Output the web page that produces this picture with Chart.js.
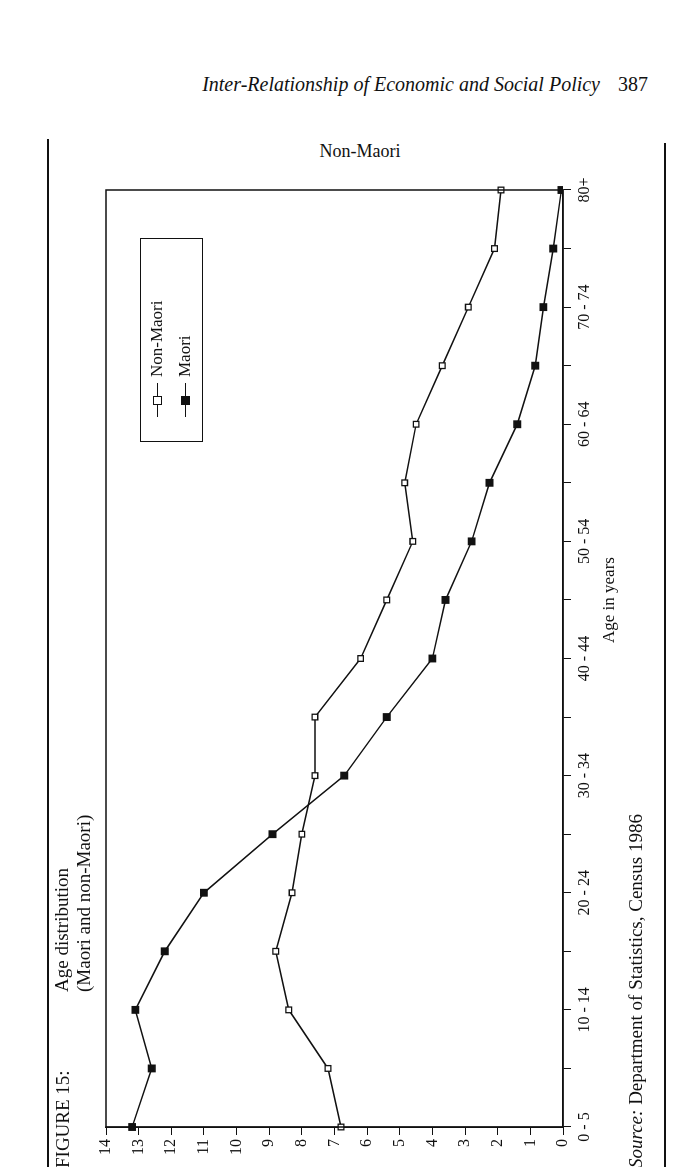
<!DOCTYPE html>
<html><head><meta charset="utf-8">
<script src="https://cdn.jsdelivr.net/npm/chart.js@4/dist/chart.umd.min.js"></script>
<style>
body{margin:0;background:#fff;width:700px;height:1167px;position:relative;overflow:hidden;font-family:"Liberation Serif",serif;color:#111}
#rot{position:absolute;left:30px;top:1170px;width:1140px;height:640px;transform:rotate(-90deg);transform-origin:0 0}
#rot div{position:absolute;white-space:nowrap}
.rule{position:absolute;background:#111;width:1.5px}
</style></head><body>
<div style="position:absolute;right:52px;top:73px;font-size:20px;font-style:italic;white-space:nowrap">Inter-Relationship of Economic and Social Policy<span style="font-style:normal;margin-left:18px">387</span></div>
<div style="position:absolute;left:0;width:720px;text-align:center;top:141px;font-size:18px">Non-Maori</div>
<div class="rule" style="left:47px;top:139px;height:1030px"></div>
<div class="rule" style="left:664px;top:143px;height:1027px"></div>
<div id="rot">
  <canvas id="c" width="1000" height="600" style="position:absolute;left:0;top:0;width:1000px;height:600px"></canvas>
  <div style="left:2px;top:21px;font-size:19px;line-height:24px">FIGURE 15:</div>
  <div style="left:178px;top:21px;font-size:19px;line-height:22px">Age distribution<br>(Maori and non-Maori)</div>
  <div style="left:2px;top:595px;font-size:19px"><i>Source:</i> Department of Statistics, Census 1986</div>
  <div style="left:470px;top:569px;width:200px;text-align:center;font-size:17px">Age in years</div>
  <div style="left:728px;top:110px;width:202px;height:61px;border:1.5px solid #111">
    <div style="left:64px;top:2px;font-size:17px;line-height:28px">Non-Maori<br>Maori</div>
    <div style="left:24px;top:16px;width:34px;height:1.2px;background:#111"></div>
    <div style="left:36px;top:12px;width:7px;height:7px;border:1.2px solid #111;background:#fff"></div>
    <div style="left:24px;top:44px;width:34px;height:1.2px;background:#111"></div>
    <div style="left:36px;top:40px;width:9px;height:9px;background:#111"></div>
  </div>
</div>
<script>
const ageGroups=["0 - 5","5 - 9","10 - 14","15 - 19","20 - 24","25 - 29","30 - 34","35 - 39","40 - 44","45 - 49","50 - 54","55 - 59","60 - 64","65 - 69","70 - 74","75 - 79","80+"];
const nonMaori=[6.8,7.2,8.4,8.8,8.3,8.0,7.6,7.6,6.2,5.4,4.6,4.85,4.5,3.7,2.9,2.1,1.9];
const maori=[13.2,12.6,13.1,12.2,11.0,8.9,6.7,5.4,4.0,3.6,2.8,2.25,1.4,0.85,0.6,0.3,0.05];
const valueTicks=[0,1,2,3,4,5,6,7,8,9,10,11,12,13,14];
const boxPlugin={id:'box',afterDraw(ch){const a=ch.chartArea,x=ch.ctx;x.save();x.strokeStyle='#111';x.lineWidth=1.5;x.strokeRect(a.left,a.top,a.right-a.left,a.bottom-a.top);x.restore();}};
new Chart(document.getElementById('c'),{
  type:'line',
  data:{labels:ageGroups,datasets:[
    {label:'Non-Maori',data:nonMaori,borderColor:'#111',borderWidth:1.5,pointStyle:'rect',pointRadius:4,pointBackgroundColor:'#fff',pointBorderColor:'#111',pointBorderWidth:1.3,tension:0},
    {label:'Maori',data:maori,borderColor:'#111',borderWidth:1.5,pointStyle:'rect',pointRadius:4.5,pointBackgroundColor:'#111',pointBorderColor:'#111',tension:0}
  ]},
  options:{responsive:false,animation:false,devicePixelRatio:1,
    layout:{padding:{left:0,right:20,top:76,bottom:0}},
    plugins:{legend:{display:false},tooltip:{enabled:false}},
    scales:{
      x:{type:'category',offset:false,afterFit(s){s.height=67;},
        border:{color:'#111',width:1.5},
        grid:{drawOnChartArea:false,drawTicks:true,tickLength:8,color:'#111'},
        ticks:{autoSkip:false,maxRotation:0,minRotation:0,padding:4,color:'#111',font:{family:'Liberation Serif',size:16},
          callback(v,i){return i%2===0?ageGroups[i]:'';}}},
      y:{min:0,max:14,afterFit(s){s.width=43;},
        afterBuildTicks(s){s.ticks=valueTicks.map(v=>({value:v}));},
        border:{color:'#111',width:1.5},
        grid:{drawOnChartArea:false,drawTicks:true,tickLength:8,color:'#111'},
        ticks:{padding:4,color:'#111',font:{family:'Liberation Serif',size:16}}}
    }},
  plugins:[boxPlugin]
});
</script></body></html>
